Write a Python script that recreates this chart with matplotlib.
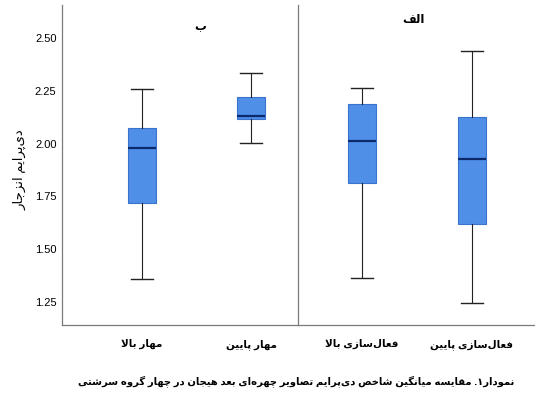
import matplotlib
matplotlib.use("Agg")
import matplotlib.pyplot as plt

plt.rcParams['font.family'] = ['Liberation Sans', 'DejaVu Sans']

# joining forms: isolated, final, initial, medial (Arabic presentation forms)
FORMS = {
    'ا': (0xFE8D, 0xFE8E, None, None), 'آ': (0xFE81, 0xFE82, None, None),
    'ب': (0xFE8F, 0xFE90, 0xFE91, 0xFE92), 'پ': (0xFB56, 0xFB57, 0xFB58, 0xFB59),
    'ت': (0xFE95, 0xFE96, 0xFE97, 0xFE98), 'ث': (0xFE99, 0xFE9A, 0xFE9B, 0xFE9C),
    'ج': (0xFE9D, 0xFE9E, 0xFE9F, 0xFEA0), 'چ': (0xFB7A, 0xFB7B, 0xFB7C, 0xFB7D),
    'ح': (0xFEA1, 0xFEA2, 0xFEA3, 0xFEA4), 'خ': (0xFEA5, 0xFEA6, 0xFEA7, 0xFEA8),
    'د': (0xFEA9, 0xFEAA, None, None), 'ذ': (0xFEAB, 0xFEAC, None, None),
    'ر': (0xFEAD, 0xFEAE, None, None), 'ز': (0xFEAF, 0xFEB0, None, None),
    'ژ': (0xFB8A, 0xFB8B, None, None),
    'س': (0xFEB1, 0xFEB2, 0xFEB3, 0xFEB4), 'ش': (0xFEB5, 0xFEB6, 0xFEB7, 0xFEB8),
    'ص': (0xFEB9, 0xFEBA, 0xFEBB, 0xFEBC), 'ض': (0xFEBD, 0xFEBE, 0xFEBF, 0xFEC0),
    'ط': (0xFEC1, 0xFEC2, 0xFEC3, 0xFEC4), 'ظ': (0xFEC5, 0xFEC6, 0xFEC7, 0xFEC8),
    'ع': (0xFEC9, 0xFECA, 0xFECB, 0xFECC), 'غ': (0xFECD, 0xFECE, 0xFECF, 0xFED0),
    'ف': (0xFED1, 0xFED2, 0xFED3, 0xFED4), 'ق': (0xFED5, 0xFED6, 0xFED7, 0xFED8),
    'ک': (0xFB8E, 0xFB8F, 0xFB90, 0xFB91), 'گ': (0xFB92, 0xFB93, 0xFB94, 0xFB95),
    'ل': (0xFEDD, 0xFEDE, 0xFEDF, 0xFEE0), 'م': (0xFEE1, 0xFEE2, 0xFEE3, 0xFEE4),
    'ن': (0xFEE5, 0xFEE6, 0xFEE7, 0xFEE8), 'و': (0xFEED, 0xFEEE, None, None),
    'ه': (0xFEE9, 0xFEEA, 0xFEEB, 0xFEEC), 'ی': (0xFBFC, 0xFBFD, 0xFBFE, 0xFBFF),
    'ئ': (0xFE89, 0xFE8A, 0xFE8B, 0xFE8C),
}


def fa(s):
    # crude shaping + reverse to visual order (matplotlib has no bidi)
    def joins_next(c):
        return c in FORMS and FORMS[c][2] is not None
    res = []
    i = 0
    n = len(s)
    while i < n:
        c = s[i]
        if c not in FORMS:
            if c != '\u200c':
                res.append(c)
            i += 1
            continue
        prev = s[i - 1] if i > 0 else None
        cp = prev is not None and joins_next(prev)
        if c == 'ل' and i + 1 < n and s[i + 1] == 'ا':
            res.append('\ufefc' if cp else '\ufefb')
            i += 2
            continue
        nxt = s[i + 1] if i + 1 < n else None
        cn = joins_next(c) and nxt in FORMS
        iso, fin, ini, med = FORMS[c]
        if cp and cn:
            g = med
        elif cp:
            g = fin
        elif cn:
            g = ini
        else:
            g = iso
        res.append(chr(g))
        i += 1
    return ''.join(res)[::-1]


# data: whisker low, Q1, median, Q3, whisker high
panel_titles = ['ب', 'الف']
groups_b = ['مهار بالا', 'مهار پایین']
groups_alef = ['فعال‌سازی بالا', 'فعال‌سازی پایین']
low_b = [1.36, 2.005]
q1_b = [1.72, 2.115]
med_b = [1.98, 2.13]
q3_b = [2.075, 2.22]
high_b = [2.26, 2.335]
low_alef = [1.365, 1.245]
q1_alef = [1.815, 1.62]
med_alef = [2.01, 1.925]
q3_alef = [2.185, 2.125]
high_alef = [2.265, 2.44]
yticks = [1.25, 1.50, 1.75, 2.00, 2.25, 2.50]
ylabel = 'دی‌پرایم انزجار'
caption = 'نمودار۱. مقایسه میانگین شاخص دی‌پرایم تصاویر چهره‌ای بعد هیجان در چهار گروه سرشتی'

fig = plt.figure(figsize=(5.35, 4.05), dpi=100)
axL = fig.add_axes([62 / 535, 80 / 405, 236 / 535, 320 / 405])
axR = fig.add_axes([298 / 535, 80 / 405, 237 / 535, 320 / 405], sharey=axL)

box_fill = '#4f8fe8'
box_edge = '#3b73cc'


def draw(ax, names, lo, a, m, b, hi):
    stats = []
    for k in range(len(names)):
        stats.append(dict(whislo=lo[k], q1=a[k], med=m[k], q3=b[k], whishi=hi[k], fliers=[]))
    ax.bxp(stats, positions=list(range(len(names))), widths=0.25, patch_artist=True,
           showfliers=False,
           boxprops=dict(facecolor=box_fill, edgecolor=box_edge, linewidth=0.8),
           medianprops=dict(color='#0c2a6a', linewidth=1.6),
           whiskerprops=dict(color='#222222', linewidth=0.8),
           capprops=dict(color='#222222', linewidth=1.0),
           capwidths=0.2)
    ax.set_xticks(list(range(len(names))))
    ax.set_xticklabels([fa(t) for t in names], fontsize=7.5, fontweight='bold')
    ax.tick_params(axis='x', length=0, pad=10)
    ax.tick_params(axis='y', length=0, pad=4, labelsize=8)
    ax.spines['top'].set_visible(False)
    ax.spines['right'].set_visible(False)
    for sp in ax.spines.values():
        sp.set_color('#7a7a7a')
        sp.set_linewidth(0.9)


draw(axL, groups_b, low_b, q1_b, med_b, q3_b, high_b)
draw(axR, groups_alef, low_alef, q1_alef, med_alef, q3_alef, high_alef)

axL.set_xlim(-0.734, 1.431)
axR.set_xlim(-0.582, 1.573)
axL.set_ylim(1.141, 2.656)
axL.set_yticks(yticks)
axL.set_yticklabels(['%.2f' % v for v in yticks])
axR.tick_params(axis='y', labelleft=False)

fig.text(200 / 535, 1 - 26 / 405, fa(panel_titles[0]), ha='center', va='center',
         fontsize=8.5, fontweight='bold')
fig.text(413 / 535, 1 - 20 / 405, fa(panel_titles[1]), ha='center', va='center',
         fontsize=8.5, fontweight='bold')
fig.text(20 / 535, 1 - 170 / 405, fa(ylabel), rotation=90, ha='center', va='center',
         fontsize=9.5)
fig.text(296 / 535, 1 - 381 / 405, fa(caption), ha='center', va='center',
         fontsize=7.2, fontweight='bold')

fig.savefig('out.png', dpi=100, facecolor='white')
